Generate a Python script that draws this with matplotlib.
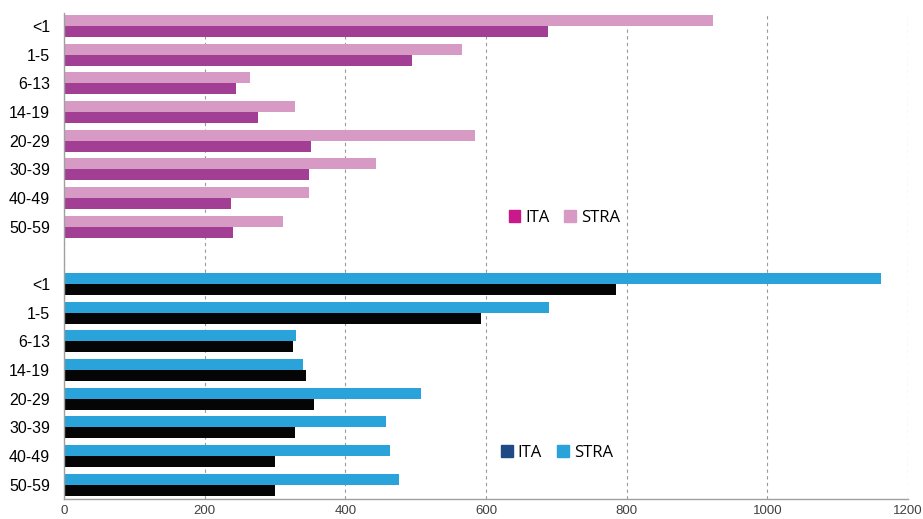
import matplotlib.pyplot as plt
from matplotlib.patches import Patch

ages = ["<1", "1-5", "6-13", "14-19", "20-29", "30-39", "40-49", "50-59"]

# top group (purple)
top_stra = [923, 566, 265, 328, 584, 444, 348, 312]
top_ita = [688, 495, 244, 276, 351, 349, 237, 240]

# bottom group (blue / black)
bot_stra = [1161, 689, 330, 340, 508, 458, 463, 476]
bot_ita = [785, 593, 326, 344, 355, 328, 300, 300]

fig = plt.figure(figsize=(9.23, 5.19), dpi=100)
ax = fig.add_axes([0.0693, 0.0385, 0.9145, 0.9365])

h = 0.383
top_pos = list(range(8))
bot_pos = [p + 9 for p in range(8)]

ax.barh([p - h / 2 for p in top_pos], top_stra, height=h, color="#D69AC5")
ax.barh([p + h / 2 for p in top_pos], top_ita, height=h, color="#A23F95")
ax.barh([p - h / 2 for p in bot_pos], bot_stra, height=h, color="#29A3DA")
ax.barh([p + h / 2 for p in bot_pos], bot_ita, height=h, color="#050505")

ax.set_ylim(16.5, -0.45)
ax.set_xlim(0, 1200)
ax.set_yticks(top_pos + bot_pos)
ax.set_yticklabels(ages + ages, fontsize=11.5, family="Liberation Sans")
ax.set_xticks(range(0, 1201, 200))
ax.set_xticklabels([str(v) for v in range(0, 1201, 200)], fontsize=9.5,
                   family="Liberation Sans", color="#404040")
ax.tick_params(axis="y", length=0, pad=10)
ax.tick_params(axis="x", length=0, pad=4)

ax.grid(axis="x", linestyle=(0, (3, 3)), color="#9a9a9a", linewidth=0.8)
ax.set_axisbelow(True)
for s in ["top", "right"]:
    ax.spines[s].set_visible(False)
for s in ["left", "bottom"]:
    ax.spines[s].set_color("#a0a0a0")
    ax.spines[s].set_linewidth(1)

lg_kw = dict(ncol=2, frameon=False, handlelength=0.7, handleheight=0.7,
             handletextpad=0.3, columnspacing=0.9, borderpad=0, borderaxespad=0,
             loc="center left", prop={"family": "Open Sans", "size": 12})

leg1 = ax.legend([Patch(color="#C8188A"), Patch(color="#D69AC5")], ["ITA", "STRA"],
                 bbox_to_anchor=(0.551, 0.58), bbox_transform=fig.transFigure, **lg_kw)
ax.add_artist(leg1)
ax.legend([Patch(color="#1F4A86"), Patch(color="#29A3DA")], ["ITA", "STRA"],
          bbox_to_anchor=(0.543, 0.127), bbox_transform=fig.transFigure, **lg_kw)

fig.savefig("out.png", dpi=100)
